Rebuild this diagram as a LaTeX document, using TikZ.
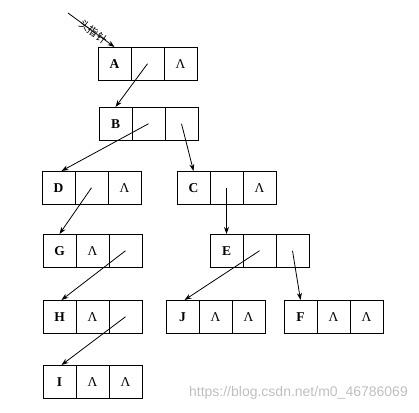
\documentclass[tikz,border=0pt]{standalone}
\usepackage{fontspec}
\setmainfont{Liberation Serif}
\newfontfamily\cjk{Noto Sans CJK SC}
\newfontfamily\wmfont{Liberation Sans}
\usetikzlibrary{arrows.meta}
\tikzset{
  cell/.style={draw, line width=1pt, minimum width=33pt, minimum height=33.5pt, inner sep=0pt, outer sep=0pt, anchor=north west, font=\fontsize{13.5}{13.5}\selectfont},
  arr/.style={line width=0.8pt, -{Stealth[length=7pt,width=5pt]}},
}
\newcommand\lstnode[6]{%
  \node[cell] (#1a) at (#2,#3) {\bfseries #4};
  \node[cell] (#1b) at (#1a.north east) {#5};
  \node[cell] (#1c) at (#1b.north east) {#6};}
\begin{document}
\begin{tikzpicture}[x=1pt,y=-1pt]
\useasboundingbox (0,0) rectangle (419,412);
\lstnode{A}{98}{47}{A}{}{Λ}
\lstnode{B}{99}{107}{B}{}{}
\lstnode{D}{42}{171}{D}{}{Λ}
\lstnode{C}{177}{171}{C}{}{Λ}
\lstnode{G}{43}{234}{G}{Λ}{}
\lstnode{E}{210}{234}{E}{}{}
\lstnode{H}{43}{300}{H}{Λ}{}
\lstnode{J}{166}{300}{J}{Λ}{Λ}
\lstnode{F}{284}{300}{F}{Λ}{Λ}
\lstnode{I}{43}{365}{I}{Λ}{Λ}
\coordinate (hp) at (68,13);
\draw[arr] (hp) -- (Aa.north) node[pos=0.55, sloped, inner sep=0pt, font=\cjk\fontsize{10.5}{10.5}\selectfont] {头指针};
\draw[arr] (Ab.center) -- (Ba.north);
\draw[arr] (Bb.center) -- ([xshift=3pt]Da.north);
\draw[arr] (Bc.center) -- (Ca.north);
\draw[arr] (Db.center) -- (Ga.north);
\draw[arr] (Cb.center) -- (Ea.north);
\draw[arr] (Gc.center) -- ([xshift=2pt]Ha.north);
\draw[arr] (Hc.center) -- ([xshift=2pt]Ia.north);
\draw[arr] (Eb.center) -- ([xshift=2pt]Ja.north);
\draw[arr] (Ec.center) -- (Fa.north);
\node[anchor=east, text=black!25, font=\wmfont\fontsize{14}{14}\selectfont, inner sep=0pt] (wm) at (408,393) {https://blog.csdn.net/m0\_46786069};
\end{tikzpicture}
\end{document}
